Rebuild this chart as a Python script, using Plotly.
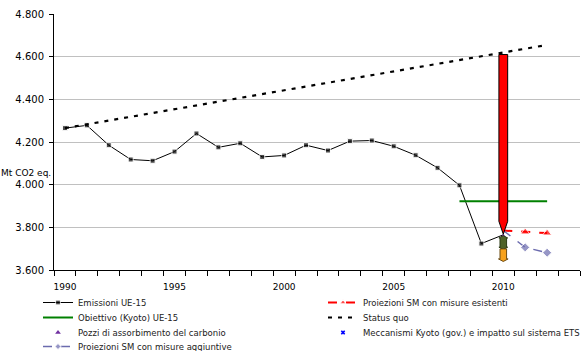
import plotly.graph_objects as go

# ---------------- data ----------------
years_em = list(range(1990, 2011))
emissions = [4265, 4278, 4185, 4118, 4112, 4155, 4240, 4175, 4194, 4130, 4137,
             4185, 4160, 4204, 4207, 4180, 4138, 4079, 3997, 3724, 3765]

years_sq = [1990, 2012]
status_quo = [4265, 4655]

years_kyoto = [2008, 2012]
kyoto_target = [3922, 3922]

years_proj = [2010, 2011, 2012]
proj_existing = [3785, 3778, 3773]
proj_additional = [3785, 3706, 3681]

# reduction arrows drawn at 2010
arrow_year = 2010
red_top, red_tip = 4610, 3768          # status quo -> emissions
sinks_top, sinks_bottom = 3758, 3699   # Pozzi di assorbimento del carbonio
mech_top, mech_bottom = 3699, 3640     # Meccanismi Kyoto (gov.) e ETS

x_ticks = [1990, 1995, 2000, 2005, 2010]

FONT = "DejaVu Sans"
W, H = 587, 351

# legend slots: (text start x px, row centre y px)
slots = [(80, 302.5), (365, 302.5), (80, 317.5), (365, 317.5),
         (80, 332.5), (365, 332.5), (80, 346.5)]

fig = go.Figure()

n_em = len(emissions)
fig.add_trace(go.Scatter(
    x=years_em, y=emissions, name="Emissioni UE-15", mode="lines+markers",
    line=dict(color="black", width=1),
    marker=dict(symbol="square", size=[5] * (n_em - 1) + [0], color="black")))

fig.add_trace(go.Scatter(
    x=years_proj, y=proj_existing, name="Proiezioni SM con misure esistenti",
    mode="lines+markers", line=dict(color="#FF0000", width=2, dash="dash"),
    marker=dict(symbol="triangle-up", size=[0, 8, 8], color="#FF0000")))

fig.add_trace(go.Scatter(
    x=years_kyoto, y=kyoto_target, name="Obiettivo (Kyoto) UE-15", mode="lines",
    line=dict(color="#008000", width=2)))

fig.add_trace(go.Scatter(
    x=years_sq, y=status_quo, name="Status quo", mode="lines",
    line=dict(color="black", width=2.2, dash="4px,6px")))

fig.add_trace(go.Scatter(
    x=[arrow_year], y=[sinks_top], name="Pozzi di assorbimento del carbonio", mode="markers",
    marker=dict(symbol="triangle-up", size=5, color="#7030A0")))

fig.add_trace(go.Scatter(
    x=[arrow_year], y=[mech_top], name="Meccanismi Kyoto (gov.) e impatto sul sistema ETS",
    mode="markers", marker=dict(symbol="x", size=4, color="#0000FF")))

fig.add_trace(go.Scatter(
    x=years_proj, y=proj_additional, name="Proiezioni SM con misure aggiuntive",
    mode="lines+markers", line=dict(color="#6B6BAE", width=1.5, dash="dash"),
    marker=dict(symbol="diamond", size=[0, 7, 7], color="#6B6BAE")))

# one legend per entry, placed in its slot
legend_layout = {}
for i, (tr, (tx, ty)) in enumerate(zip(fig.data, slots)):
    key = "legend" if i == 0 else f"legend{i + 1}"
    tr.legend = key
    legend_layout[key] = dict(
        xref="container", yref="container",
        x=(tx - 42) / W, y=1 - ty / H, xanchor="left", yanchor="middle",
        orientation="h", bgcolor="rgba(0,0,0,0)", borderwidth=0,
        font=dict(family=FONT, size=8.5, color="#222222"))

# ---------------- arrow shapes (data coordinates) ----------------
hw = 0.2     # half width of red arrow (years)
head = 60    # head height (Mt)
red_path = (f"M {arrow_year-hw},{red_top} L {arrow_year+hw},{red_top} "
            f"L {arrow_year+hw},{red_tip+head} L {arrow_year},{red_tip} "
            f"L {arrow_year-hw},{red_tip+head} Z")
fig.add_shape(type="path", path=red_path, xref="x", yref="y",
              fillcolor="#FF0000", line=dict(color="black", width=1))

gw = 0.15
gh = 0.2
gsh = 8
green_path = (f"M {arrow_year},{sinks_top+3} L {arrow_year+gh},{sinks_top-gsh} "
              f"L {arrow_year+gw},{sinks_top-gsh} L {arrow_year+gw},{sinks_bottom+gsh} "
              f"L {arrow_year+gh},{sinks_bottom+gsh} L {arrow_year},{sinks_bottom-3} "
              f"L {arrow_year-gh},{sinks_bottom+gsh} L {arrow_year-gw},{sinks_bottom+gsh} "
              f"L {arrow_year-gw},{sinks_top-gsh} L {arrow_year-gh},{sinks_top-gsh} Z")
fig.add_shape(type="path", path=green_path, xref="x", yref="y",
              fillcolor="#4F6228", line=dict(color="#2B3A14", width=1))

ow = 0.15
oh = 0.22
osh = 12
orange_path = (f"M {arrow_year-ow},{mech_top} L {arrow_year+ow},{mech_top} "
               f"L {arrow_year+ow},{mech_bottom+osh} L {arrow_year+oh},{mech_bottom+osh} "
               f"L {arrow_year},{mech_bottom} L {arrow_year-oh},{mech_bottom+osh} "
               f"L {arrow_year-ow},{mech_bottom+osh} Z")
fig.add_shape(type="path", path=orange_path, xref="x", yref="y",
              fillcolor="#F7A11A", line=dict(color="#6B4A10", width=1))

fig.add_annotation(text="Mt CO2 eq.", xref="paper", yref="paper", x=0, y=0.379,
                   xanchor="right", yanchor="middle", xshift=-1, showarrow=False,
                   font=dict(family=FONT, size=9, color="black"))

fig.update_layout(
    width=W, height=H,
    margin=dict(l=54, r=7, t=14, b=81, autoexpand=False),
    paper_bgcolor="white", plot_bgcolor="white",
    separators=",.",
    font=dict(family=FONT, color="black"),
    showlegend=True,
    **legend_layout,
)

fig.update_xaxes(range=[1989.5, 2013.5], tickvals=x_ticks, ticktext=[str(v) for v in x_ticks],
                 ticks="", showgrid=False, zeroline=False, automargin=False,
                 showline=True, linecolor="black", linewidth=1, ticklabelstandoff=8,
                 tickfont=dict(family=FONT, size=9, color="black"),
                 minor=dict(ticks="outside", ticklen=5, tick0=1989.5, dtick=1,
                            tickcolor="black", showgrid=False))

fig.update_yaxes(range=[3600, 4800], dtick=200, tickformat=",.0f",
                 ticks="outside", ticklen=4, tickcolor="black", automargin=False,
                 showgrid=True, gridcolor="#C0C0C0", gridwidth=1, zeroline=False,
                 showline=True, linecolor="black", linewidth=1, ticklabelstandoff=3,
                 tickfont=dict(family=FONT, size=10, color="black"))

fig.write_html("out.html")
